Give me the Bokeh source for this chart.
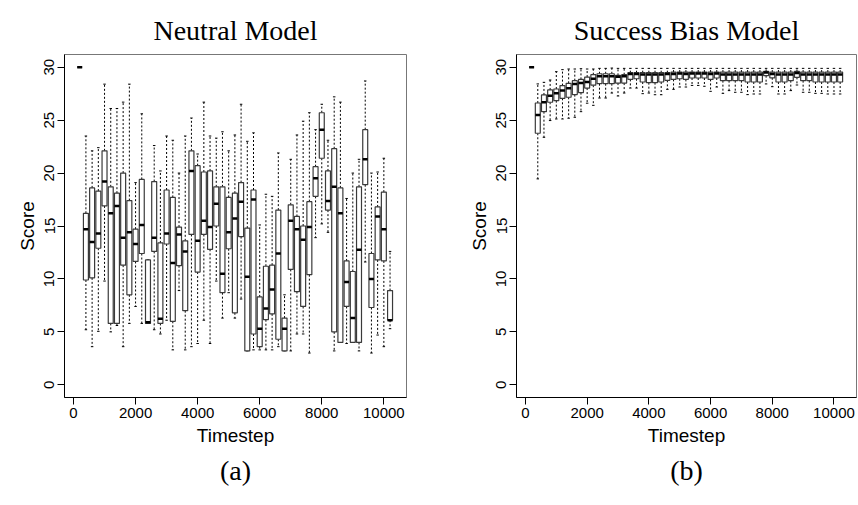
from bokeh.plotting import figure
from bokeh.layouts import row
from bokeh.models import Range1d, FixedTicker, Title, ColumnDataSource
from bokeh.embed import file_html
from bokeh.resources import INLINE

# ---------------- data ----------------
timesteps = [200, 400, 600, 800, 1000, 1200, 1400, 1600, 1800, 2000,
             2200, 2400, 2600, 2800, 3000, 3200, 3400, 3600, 3800, 4000,
             4200, 4400, 4600, 4800, 5000, 5200, 5400, 5600, 5800, 6000,
             6200, 6400, 6600, 6800, 7000, 7200, 7400, 7600, 7800, 8000,
             8200, 8400, 8600, 8800, 9000, 9200, 9400, 9600, 9800, 10000,
             10200]

x_ticks = [0, 2000, 4000, 6000, 8000, 10000]
y_ticks = [0, 5, 10, 15, 20, 25, 30]

neutral_whisker_hi = [30, 23.5, 22.1, 22.4, 28.4, 26.1, 26.1, 26.7, 28.4, 19.1,
                      25.6, 11.8, 22.6, 20.2, 23.5, 23.1, 20.0, 23.5, 25.2, 21.8,
                      26.7, 23.5, 23.3, 23.9, 22.1, 23.6, 26.5, 23.0, 23.8, 15.1,
                      18.0, 17.8, 21.9, 8.5, 21.3, 23.6, 24.9, 25.7, 24.1, 26.5,
                      23.1, 27.2, 26.7, 17.6, 20.0, 21.3, 28.7, 20.0, 20.1, 21.4,
                      12.6]
neutral_q3 = [30, 16.2, 18.6, 18.3, 22.1, 18.7, 18.1, 20.0, 17.4, 14.7,
              19.4, 11.8, 19.2, 13.4, 18.4, 17.7, 14.9, 13.6, 22.1, 20.7,
              20.1, 20.2, 18.7, 18.7, 17.7, 18.1, 19.1, 14.8, 18.4, 8.3,
              11.2, 11.3, 16.5, 6.3, 17.0, 15.9, 15.0, 17.3, 20.6, 25.7,
              20.2, 22.3, 18.6, 11.7, 10.7, 18.7, 24.1, 12.4, 16.8, 18.2,
              8.9]
neutral_median = [30, 14.7, 13.5, 14.3, 19.2, 16.2, 16.9, 13.9, 14.4, 13.3,
                  15.1, 5.9, 13.9, 6.25, 14.3, 11.5, 14.2, 12.6, 20.2, 13.6,
                  15.5, 14.9, 17.1, 10.5, 14.4, 15.7, 17.3, 10.2, 17.5, 5.3,
                  7.2, 9.0, 12.4, 5.3, 15.5, 14.7, 13.7, 14.9, 19.5, 24.1,
                  17.35, 18.7, 16.2, 9.7, 6.3, 12.75, 21.3, 10.0, 15.9, 14.7,
                  6.1]
neutral_q1 = [30, 9.9, 10.1, 12.9, 16.9, 5.8, 5.8, 11.3, 8.5, 11.65,
              12.4, 5.8, 12.6, 5.8, 13.3, 6.0, 11.25, 7.0, 14.2, 10.65,
              14.2, 12.8, 15.0, 8.7, 12.85, 6.8, 14.0, 3.2, 4.8, 3.6,
              6.15, 6.7, 4.3, 3.2, 10.9, 8.8, 7.4, 10.4, 17.8, 21.4,
              16.5, 5.0, 4.0, 7.4, 4.0, 4.0, 18.9, 7.3, 11.8, 11.7,
              6.1]
neutral_whisker_lo = [30, 5.2, 3.6, 5.05, 9.8, 5.0, 5.6, 3.6, 5.8, 7.4,
                      5.8, 5.8, 5.2, 4.8, 6.1, 3.3, 8.9, 3.3, 3.6, 3.9,
                      6.1, 3.9, 9.8, 6.3, 8.7, 6.3, 8.1, 3.2, 3.3, 3.3,
                      3.3, 3.3, 3.6, 3.2, 3.2, 4.8, 4.8, 3.0, 13.9, 15.2,
                      14.4, 3.2, 4.0, 3.9, 4.0, 3.2, 11.6, 3.0, 4.7, 3.6,
                      5.3]

success_whisker_hi = [30, 28.42, 28.57, 28.79, 29.58, 29.77, 29.83, 29.83, 29.86, 29.83,
                      29.83, 29.89, 29.89, 29.92, 29.89, 29.89, 29.89, 29.89, 29.89, 29.89,
                      29.89, 29.89, 29.89, 29.89, 29.89, 29.89, 29.89, 29.89, 29.89, 29.89,
                      29.89, 29.89, 29.89, 29.89, 29.89, 29.89, 29.89, 29.89, 29.89, 29.89,
                      29.89, 29.89, 29.89, 29.89, 29.89, 29.89, 29.89, 29.89, 29.89, 29.89,
                      29.89]
success_q3 = [30, 26.62, 27.38, 27.85, 27.94, 28.26, 28.48, 28.73, 28.85, 29.07,
              29.29, 29.38, 29.38, 29.38, 29.23, 29.29, 29.48, 29.48, 29.48, 29.48,
              29.48, 29.48, 29.48, 29.54, 29.54, 29.54, 29.54, 29.54, 29.54, 29.54,
              29.54, 29.54, 29.54, 29.54, 29.54, 29.54, 29.54, 29.54, 29.61, 29.54,
              29.54, 29.54, 29.54, 29.6, 29.54, 29.54, 29.54, 29.54, 29.54, 29.54,
              29.54]
success_median = [30, 25.49, 26.69, 27.31, 27.53, 27.79, 28.01, 28.42, 28.51, 28.6,
                  28.9, 29.15, 29.15, 29.15, 29.1, 29.15, 29.35, 29.35, 29.3, 29.3,
                  29.3, 29.3, 29.35, 29.35, 29.4, 29.35, 29.4, 29.4, 29.4, 29.35,
                  29.4, 29.3, 29.3, 29.3, 29.3, 29.3, 29.3, 29.3, 29.5, 29.35,
                  29.3, 29.3, 29.3, 29.45, 29.3, 29.3, 29.3, 29.3, 29.3, 29.3,
                  29.3]
success_q1 = [30, 23.76, 25.8, 26.69, 26.84, 27.06, 27.16, 27.41, 27.6, 28.03,
              28.3, 28.44, 28.44, 28.44, 28.5, 28.5, 28.85, 28.91, 28.6, 28.54,
              28.54, 28.6, 28.76, 28.85, 28.91, 28.85, 28.98, 28.98, 28.98, 28.85,
              28.98, 28.73, 28.73, 28.73, 28.73, 28.6, 28.6, 28.6, 29.2, 29.0,
              28.6, 28.6, 28.73, 29.04, 28.73, 28.73, 28.6, 28.6, 28.6, 28.6,
              28.6]
success_whisker_lo = [30, 19.45, 23.38, 24.96, 25.11, 25.11, 25.18, 25.27, 25.8, 26.6,
                      26.4, 27.09, 27.09, 27.56, 27.28, 27.56, 28.03, 28.03, 27.5, 27.56,
                      27.4, 27.4, 27.91, 27.91, 28.13, 28.13, 28.28, 28.28, 28.2, 27.72,
                      28.13, 27.53, 27.79, 27.63, 27.63, 27.41, 27.47, 27.47, 28.42, 28.16,
                      27.47, 27.47, 27.79, 28.32, 27.63, 27.63, 27.53, 27.53, 27.47, 27.47,
                      27.47]

BOX_W = 160
CAP_W = 80


def make_panel(title, tag, whi, q3, med, q1, wlo, width, left, right):
    src = ColumnDataSource(dict(
        t=timesteps,
        t0=[t - BOX_W / 2 for t in timesteps],
        t1=[t + BOX_W / 2 for t in timesteps],
        c0=[t - CAP_W / 2 for t in timesteps],
        c1=[t + CAP_W / 2 for t in timesteps],
        whi=whi, q3=q3, med=med, q1=q1, wlo=wlo,
    ))
    p = figure(width=width, height=505, output_backend="svg", toolbar_location=None,
               x_range=Range1d(-290, 10730), y_range=Range1d(-1.2, 31.2),
               min_border_left=left, min_border_right=right,
               min_border_top=54, min_border_bottom=108)
    p.title.text = title
    p.title.align = "center"
    p.title.vertical_align = "top"
    p.title.text_font = "Liberation Serif"
    p.title.text_font_size = "28px"
    p.title.text_font_style = "normal"
    p.title.text_color = "black"
    p.title.standoff = 14
    p.add_layout(Title(text=tag, align="center", text_font="Liberation Serif",
                       text_font_size="28px", text_font_style="normal",
                       text_color="black", standoff=8), "below")
    p.background_fill_color = "white"
    p.border_fill_color = "white"
    p.outline_line_color = "#777777"
    p.outline_line_width = 1
    p.xgrid.visible = False
    p.ygrid.visible = False

    for ax in (p.xaxis[0], p.yaxis[0]):
        ax.axis_line_color = "black"
        ax.major_tick_line_color = "black"
        ax.major_tick_out = 7
        ax.major_tick_in = 0
        ax.minor_tick_line_color = None
        ax.major_label_text_font = "Liberation Sans"
        ax.major_label_text_font_size = "15px"
        ax.major_label_text_color = "black"
        ax.major_label_standoff = 3
        ax.axis_label_text_font = "Liberation Sans"
        ax.axis_label_text_font_size = "19px"
        ax.axis_label_text_font_style = "normal"
        ax.axis_label_text_color = "black"
        ax.axis_label_standoff = 4
    p.xaxis.ticker = FixedTicker(ticks=x_ticks)
    p.yaxis.ticker = FixedTicker(ticks=y_ticks)
    p.yaxis.major_label_orientation = "vertical"
    p.xaxis.axis_label = "Timestep"
    p.yaxis.axis_label = "Score"

    # whiskers (dashed)
    p.segment(x0="t", y0="q3", x1="t", y1="whi", source=src,
              line_color="black", line_width=1, line_dash="2 2")
    p.segment(x0="t", y0="q1", x1="t", y1="wlo", source=src,
              line_color="black", line_width=1, line_dash="2 2")
    # caps
    p.segment(x0="c0", y0="whi", x1="c1", y1="whi", source=src,
              line_color="black", line_width=1)
    p.segment(x0="c0", y0="wlo", x1="c1", y1="wlo", source=src,
              line_color="black", line_width=1)
    # boxes
    p.vbar(x="t", width=BOX_W, top="q3", bottom="q1", source=src,
           fill_color="white", line_color="#3a3a3a", line_width=1.2)
    # medians
    p.segment(x0="t0", y0="med", x1="t1", y1="med", source=src,
              line_color="black", line_width=2.5)
    return p


pa = make_panel("Neutral Model", "(a)", neutral_whisker_hi, neutral_q3,
                neutral_median, neutral_q1, neutral_whisker_lo, 450, 64, 44)
pb = make_panel("Success Bias Model", "(b)", success_whisker_hi, success_q3,
                success_median, success_q1, success_whisker_lo, 408, 66, 2)

layout = row(pa, pb)
open("out.html", "w").write(file_html(layout, INLINE))
